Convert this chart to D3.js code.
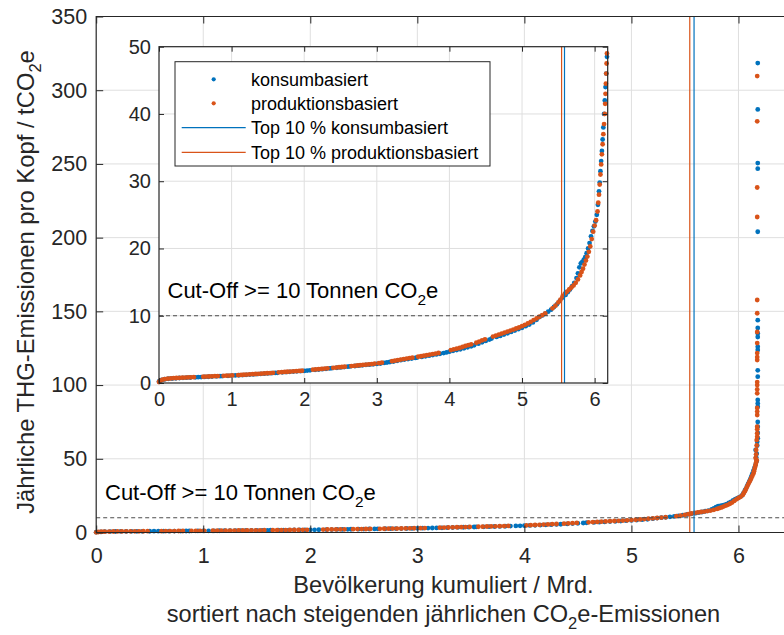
<!DOCTYPE html>
<html>
<head>
<meta charset="utf-8">
<script src="https://cdn.jsdelivr.net/npm/d3@7"></script>
<style>
  html, body { margin: 0; padding: 0; background: #fff; }
  svg { display: block; }
</style>
</head>
<body>
<script>
// Per-capita GHG emissions, sorted ascending, against cumulative population (bn)
// [cumulative population / Mrd., emissions / tCO2e per head]
const konsumbasiert = [
  [0.00,0.22],[0.04,0.45],[0.08,0.56],[0.13,0.63],[0.18,0.67],[0.23,0.70],[0.28,0.74],[0.33,0.77],
  [0.38,0.79],[0.43,0.82],[0.50,0.85],[0.54,0.87],[0.58,0.88],[0.63,0.90],[0.68,0.93],[0.73,0.96],
  [0.79,0.99],[0.84,1.01],[0.87,1.03],[0.95,1.07],[1.00,1.10],[1.05,1.12],[1.10,1.15],[1.15,1.18],
  [1.20,1.22],[1.25,1.25],[1.30,1.28],[1.35,1.32],[1.40,1.35],[1.45,1.38],[1.50,1.42],[1.55,1.46],
  [1.60,1.50],[1.63,1.52],[1.70,1.58],[1.75,1.62],[1.80,1.66],[1.85,1.70],[1.90,1.73],[1.95,1.77],
  [2.00,1.80],[2.04,1.84],[2.08,1.88],[2.15,1.96],[2.20,2.01],[2.25,2.06],[2.30,2.11],[2.35,2.16],
  [2.38,2.20],[2.45,2.27],[2.50,2.32],[2.55,2.37],[2.60,2.43],[2.63,2.46],[2.70,2.53],[2.75,2.58],
  [2.80,2.63],[2.85,2.68],[2.90,2.73],[2.95,2.78],[3.00,2.83],[3.05,2.90],[3.10,2.98],[3.14,3.05],
  [3.18,3.12],[3.23,3.20],[3.28,3.30],[3.33,3.40],[3.38,3.48],[3.43,3.56],[3.48,3.64],[3.53,3.73],
  [3.55,3.76],[3.62,3.88],[3.67,3.97],[3.72,4.06],[3.77,4.15],[3.82,4.25],[3.87,4.35],[3.92,4.45],
  [3.96,4.55],[4.00,4.65],[4.05,4.78],[4.10,4.90],[4.15,5.02],[4.20,5.15],[4.25,5.30],[4.30,5.45],
  [4.34,5.60],[4.40,5.85],[4.45,6.05],[4.50,6.25],[4.55,6.45],[4.58,6.60],[4.65,6.85],[4.70,7.00],
  [4.75,7.20],[4.80,7.40],[4.85,7.60],[4.90,7.80],[4.95,8.00],[5.00,8.20],[5.05,8.45],[5.10,8.70],
  [5.15,9.00],[5.20,9.40],[5.24,9.80],[5.28,10.05],[5.32,10.30],[5.36,10.60],[5.40,10.90],[5.44,11.30],
  [5.48,11.70],[5.52,12.20],[5.56,12.70],[5.60,13.10],[5.63,13.50],[5.66,13.90],[5.69,14.40],[5.72,14.90],
  [5.75,15.60],[5.77,16.30],[5.79,17.20],[5.81,17.80],[5.83,18.00],[5.85,18.30],[5.87,18.70],[5.89,19.30],
  [5.91,20.00],[5.93,20.80],[5.95,21.80],[5.97,22.60],[5.99,23.30],[6.01,24.00],[6.03,25.00],[6.045,26.50],
  [6.06,28.50],[6.07,29.80],[6.08,31.50],[6.09,33.00],[6.10,34.50],[6.11,36.20],[6.12,38.00],[6.13,40.00],
  [6.14,42.00],[6.15,44.00],[6.16,46.00],[6.17,48.50],
  [6.165,51.0],[6.17,53.5],[6.16,56.0],[6.175,59.0],[6.175,61.6],[6.18,64.0],[6.18,67.5],[6.18,71.8],
  [6.18,75.0],[6.18,85.3],[6.18,87.5],[6.18,89.9],[6.18,105.7],[6.18,110.0],[6.18,123.8],[6.18,126.0],
  [6.18,132.6],[6.18,135.0],[6.18,138.7],[6.18,144.0],[6.18,204.0],[6.18,246.8],[6.18,250.6],[6.18,287.0],
  [6.18,318.4]
];

const produktionsbasiert = [
  [0.00,0.15],[0.02,0.35],[0.05,0.50],[0.08,0.58],[0.12,0.64],[0.16,0.68],[0.20,0.71],[0.24,0.74],
  [0.28,0.77],[0.32,0.79],[0.36,0.81],[0.40,0.83],[0.44,0.85],[0.48,0.87],
  [0.61,0.93],[0.65,0.95],[0.69,0.97],[0.73,0.99],[0.77,1.01],[0.81,1.03],
  [0.89,1.07],[0.93,1.09],[0.97,1.11],[1.01,1.13],
  [1.09,1.18],[1.13,1.20],[1.17,1.23],[1.21,1.26],[1.25,1.29],[1.29,1.31],[1.33,1.34],[1.37,1.36],
  [1.41,1.39],[1.45,1.42],[1.49,1.45],[1.53,1.48],[1.57,1.51],
  [1.65,1.58],[1.69,1.61],[1.73,1.64],[1.77,1.67],[1.81,1.70],[1.85,1.73],[1.89,1.76],[1.93,1.79],[1.97,1.82],
  [2.12,1.98],[2.16,2.02],[2.20,2.06],[2.24,2.10],[2.28,2.14],[2.32,2.18],
  [2.40,2.26],[2.44,2.30],[2.48,2.34],[2.52,2.38],[2.56,2.42],
  [2.65,2.52],[2.69,2.56],[2.73,2.60],[2.77,2.64],[2.81,2.68],[2.85,2.72],[2.89,2.77],[2.93,2.82],[2.97,2.87],
  [3.03,2.95],[3.07,3.02],
  [3.21,3.25],[3.25,3.32],[3.29,3.40],[3.33,3.48],[3.37,3.56],[3.41,3.63],[3.45,3.70],[3.49,3.77],
  [3.57,3.90],[3.61,3.98],[3.65,4.06],[3.69,4.14],[3.73,4.22],[3.77,4.30],[3.81,4.38],[3.85,4.46],
  [4.02,4.90],[4.06,5.00],[4.10,5.10],[4.14,5.20],[4.18,5.35],[4.22,5.50],[4.26,5.62],[4.30,5.75],
  [4.37,6.00],[4.41,6.15],[4.45,6.35],[4.49,6.50],
  [4.60,6.90],[4.64,7.05],[4.68,7.20],[4.72,7.35],[4.76,7.50],[4.80,7.65],[4.84,7.80],[4.88,7.95],
  [4.92,8.10],[4.96,8.25],[5.00,8.45],[5.04,8.65],[5.08,8.85],[5.12,9.10],[5.16,9.35],[5.20,9.60],
  [5.24,9.85],[5.28,10.10],[5.32,10.35],
  [5.42,11.10],[5.46,11.50],[5.50,12.00],[5.53,12.40],[5.56,12.90],[5.59,13.30],[5.62,13.60],[5.65,13.90],
  [5.68,14.20],[5.71,14.50],[5.74,14.90],[5.77,15.40],[5.80,16.00],[5.82,16.50],[5.84,17.00],[5.86,17.60],
  [5.88,18.20],[5.90,18.80],[5.92,19.50],[5.94,20.30],[5.96,21.40],[5.98,22.50],[6.00,23.40],[6.02,24.20],
  [6.04,25.50],[6.05,26.80],[6.06,28.00],[6.07,29.50],[6.08,31.00],[6.09,32.50],[6.10,34.00],[6.11,35.50],
  [6.12,37.00],[6.13,38.50],[6.14,40.00],[6.145,41.50],[6.15,43.00],[6.155,44.50],[6.16,46.00],[6.165,47.50],
  [6.17,49.00],
  [6.16,50.5],[6.165,53.0],[6.165,56.0],[6.17,59.0],[6.17,62.7],[6.175,65.0],[6.175,67.3],[6.175,70.0],
  [6.175,71.8],[6.175,79.7],[6.175,82.0],[6.175,84.5],[6.175,94.4],[6.175,97.0],[6.175,100.0],[6.175,102.0],
  [6.175,117.0],[6.175,119.0],[6.175,121.7],[6.175,128.5],[6.175,136.0],[6.175,148.7],[6.175,157.7],
  [6.175,214.0],[6.175,234.0],[6.175,278.9],[6.175,309.6]
];

// Top-10 % thresholds (cumulative population, Mrd.)
const top10Konsum = 5.585;
const top10Produktion = 5.545;
const cutOff = 10;

const mainXTicks = [0, 1, 2, 3, 4, 5, 6];
const mainYTicks = [0, 50, 100, 150, 200, 250, 300, 350];
const insetXTicks = [0, 1, 2, 3, 4, 5, 6];
const insetYTicks = [0, 10, 20, 30, 40, 50];

const legendLabels = ["konsumbasiert", "produktionsbasiert", "Top 10 % konsumbasiert", "Top 10 % produktionsbasiert"];

const BLUE = "#0072BD", RED = "#D95319", INK = "#262626", GRID = "#dfdfdf", CUT = "#4d4d4d";
const FONT = "'Liberation Sans', Arial, Helvetica, sans-serif";
const DOT_R = 2.4;

const svg = d3.select("body").append("svg")
  .attr("width", 784).attr("height", 635)
  .style("font-family", FONT);

// ---------- main axes ----------
const M = { left: 96.2, top: 16.5, right: 792, bottom: 532.5 };
const xMain = d3.scaleLinear().domain([0, 6.5]).range([M.left, M.right]);
const yMain = d3.scaleLinear().domain([0, 350]).range([M.bottom, M.top]);

const mainG = svg.append("g");
mainG.append("g").selectAll("line").data(mainXTicks.filter(d => d > 0)).join("line")
  .attr("x1", d => xMain(d)).attr("x2", d => xMain(d))
  .attr("y1", M.top).attr("y2", M.bottom).attr("stroke", GRID).attr("stroke-width", 1);
mainG.append("g").selectAll("line").data(mainYTicks.filter(d => d > 0 && d < 350)).join("line")
  .attr("x1", M.left).attr("x2", M.right)
  .attr("y1", d => yMain(d)).attr("y2", d => yMain(d)).attr("stroke", GRID).attr("stroke-width", 1);

function drawPoints(g, data, xs, ys, color, filter) {
  g.append("g").selectAll("circle").data(data.filter(filter)).join("circle")
    .attr("cx", d => xs(d[0])).attr("cy", d => ys(d[1])).attr("r", DOT_R).attr("fill", color);
}
drawPoints(mainG, konsumbasiert, xMain, yMain, BLUE, () => true);
drawPoints(mainG, produktionsbasiert, xMain, yMain, RED, () => true);

mainG.append("line").attr("x1", M.left).attr("x2", M.right)
  .attr("y1", yMain(cutOff)).attr("y2", yMain(cutOff))
  .attr("stroke", CUT).attr("stroke-width", 1).attr("stroke-dasharray", "4,3");

mainG.append("line").attr("x1", xMain(top10Konsum)).attr("x2", xMain(top10Konsum))
  .attr("y1", M.top).attr("y2", M.bottom).attr("stroke", BLUE).attr("stroke-width", 1.2);
mainG.append("line").attr("x1", xMain(top10Produktion)).attr("x2", xMain(top10Produktion))
  .attr("y1", M.top).attr("y2", M.bottom).attr("stroke", RED).attr("stroke-width", 1.2);

function cutLabel(g, x, y, size) {
  const t = g.append("text").attr("x", x).attr("y", y).attr("fill", "#000").style("font-size", size + "px");
  t.append("tspan").text("Cut-Off >= 10 Tonnen CO");
  t.append("tspan").attr("dy", size * 0.3).style("font-size", (size * 0.7) + "px").text("2");
  t.append("tspan").attr("dy", -size * 0.3).text("e");
}
cutLabel(mainG, 105, 500, 22);

// main axis ticks (inward) and labels
function styleAxis(size) {
  return sel => {
    sel.select(".domain").remove();
    sel.selectAll(".tick line").attr("stroke", INK);
    sel.selectAll(".tick text").attr("fill", INK).style("font-size", size + "px").style("font-family", FONT);
  };
}
mainG.append("g").attr("transform", `translate(0,${M.bottom})`)
  .call(d3.axisBottom(xMain).tickValues(mainXTicks).tickFormat(d3.format("d"))
    .tickSizeInner(-7).tickSizeOuter(0).tickPadding(15))
  .call(styleAxis(21.5));
mainG.append("g").attr("transform", `translate(0,${M.top})`)
  .call(d3.axisTop(xMain).tickValues(mainXTicks).tickFormat("")
    .tickSizeInner(-7).tickSizeOuter(0))
  .call(styleAxis(21.5));
mainG.append("g").attr("transform", `translate(${M.left},0)`)
  .call(d3.axisLeft(yMain).tickValues(mainYTicks).tickFormat(d3.format("d"))
    .tickSizeInner(-7).tickSizeOuter(0).tickPadding(9))
  .call(styleAxis(21.5));
mainG.append("path")
  .attr("d", `M${M.right},${M.top}H${M.left}V${M.bottom}H${M.right}`)
  .attr("fill", "none").attr("stroke", INK).attr("stroke-width", 1.2);

// axis titles
const yt = svg.append("text").attr("transform", "translate(34,282) rotate(-90)")
  .attr("text-anchor", "middle").attr("fill", INK).style("font-size", "23.8px");
yt.append("tspan").text("Jährliche THG-Emissionen pro Kopf / tCO");
yt.append("tspan").attr("dy", 7).style("font-size", "16.5px").text("2");
yt.append("tspan").attr("dy", -7).text("e");

svg.append("text").attr("x", 443.5).attr("y", 593).attr("text-anchor", "middle")
  .attr("fill", INK).style("font-size", "23.6px").text("Bevölkerung kumuliert / Mrd.");
const xt2 = svg.append("text").attr("x", 443.5).attr("y", 622).attr("text-anchor", "middle")
  .attr("fill", INK).style("font-size", "23.6px");
xt2.append("tspan").text("sortiert nach steigenden jährlichen CO");
xt2.append("tspan").attr("dy", 7).style("font-size", "16.5px").text("2");
xt2.append("tspan").attr("dy", -7).text("e-Emissionen");

// ---------- inset axes ----------
const I = { left: 159, top: 46.7, right: 607.7, bottom: 383 };
const xIn = d3.scaleLinear().domain([0, 6.18]).range([I.left, I.right]);
const yIn = d3.scaleLinear().domain([0, 50]).range([I.bottom, I.top]);

const inG = svg.append("g");
inG.append("rect").attr("x", I.left).attr("y", I.top)
  .attr("width", I.right - I.left).attr("height", I.bottom - I.top).attr("fill", "#fff");
inG.append("g").selectAll("line").data(insetXTicks.filter(d => d > 0)).join("line")
  .attr("x1", d => xIn(d)).attr("x2", d => xIn(d))
  .attr("y1", I.top).attr("y2", I.bottom).attr("stroke", GRID);
inG.append("g").selectAll("line").data(insetYTicks.filter(d => d > 0 && d < 50)).join("line")
  .attr("x1", I.left).attr("x2", I.right)
  .attr("y1", d => yIn(d)).attr("y2", d => yIn(d)).attr("stroke", GRID);

const inRange = d => d[0] <= 6.185 && d[1] <= 50.3;
drawPoints(inG, konsumbasiert, xIn, yIn, BLUE, inRange);
drawPoints(inG, produktionsbasiert, xIn, yIn, RED, inRange);

inG.append("line").attr("x1", I.left).attr("x2", I.right)
  .attr("y1", yIn(cutOff)).attr("y2", yIn(cutOff))
  .attr("stroke", CUT).attr("stroke-width", 1).attr("stroke-dasharray", "4,3");
inG.append("line").attr("x1", xIn(top10Konsum)).attr("x2", xIn(top10Konsum))
  .attr("y1", I.top).attr("y2", I.bottom).attr("stroke", BLUE).attr("stroke-width", 1.2);
inG.append("line").attr("x1", xIn(top10Produktion)).attr("x2", xIn(top10Produktion))
  .attr("y1", I.top).attr("y2", I.bottom).attr("stroke", RED).attr("stroke-width", 1.2);

cutLabel(inG, 167.5, 298, 22);

inG.append("g").attr("transform", `translate(0,${I.bottom})`)
  .call(d3.axisBottom(xIn).tickValues(insetXTicks).tickFormat(d3.format("d"))
    .tickSizeInner(-5).tickSizeOuter(0).tickPadding(9))
  .call(styleAxis(20));
inG.append("g").attr("transform", `translate(0,${I.top})`)
  .call(d3.axisTop(xIn).tickValues(insetXTicks).tickFormat("")
    .tickSizeInner(-5).tickSizeOuter(0))
  .call(styleAxis(20));
inG.append("g").attr("transform", `translate(${I.left},0)`)
  .call(d3.axisLeft(yIn).tickValues(insetYTicks).tickFormat(d3.format("d"))
    .tickSizeInner(-5).tickSizeOuter(0).tickPadding(8))
  .call(styleAxis(20));
inG.append("g").attr("transform", `translate(${I.right},0)`)
  .call(d3.axisRight(yIn).tickValues(insetYTicks).tickFormat("")
    .tickSizeInner(-5).tickSizeOuter(0))
  .call(styleAxis(20));
inG.append("rect").attr("x", I.left).attr("y", I.top)
  .attr("width", I.right - I.left).attr("height", I.bottom - I.top)
  .attr("fill", "none").attr("stroke", INK).attr("stroke-width", 1.2);

// ---------- legend ----------
const L = { x: 175, y: 61.7, w: 315, h: 104.3 };
const legG = svg.append("g");
legG.append("rect").attr("x", L.x).attr("y", L.y).attr("width", L.w).attr("height", L.h)
  .attr("fill", "#fff").attr("stroke", INK).attr("stroke-width", 1);
const rowY = [79.3, 103.3, 127.7, 152.3];
const legendKinds = [
  { kind: "dot", color: BLUE }, { kind: "dot", color: RED },
  { kind: "line", color: BLUE }, { kind: "line", color: RED }
];
legendLabels.forEach((lab, i) => {
  const k = legendKinds[i];
  if (k.kind === "dot") {
    legG.append("circle").attr("cx", 213.7).attr("cy", rowY[i]).attr("r", 2.1).attr("fill", k.color);
  } else {
    legG.append("line").attr("x1", 181.7).attr("x2", 245.7).attr("y1", rowY[i]).attr("y2", rowY[i])
      .attr("stroke", k.color).attr("stroke-width", 1.2);
  }
  legG.append("text").attr("x", 251).attr("y", rowY[i]).attr("dy", "0.35em")
    .attr("fill", "#000").style("font-size", "18px").text(lab);
});
</script>
</body>
</html>
